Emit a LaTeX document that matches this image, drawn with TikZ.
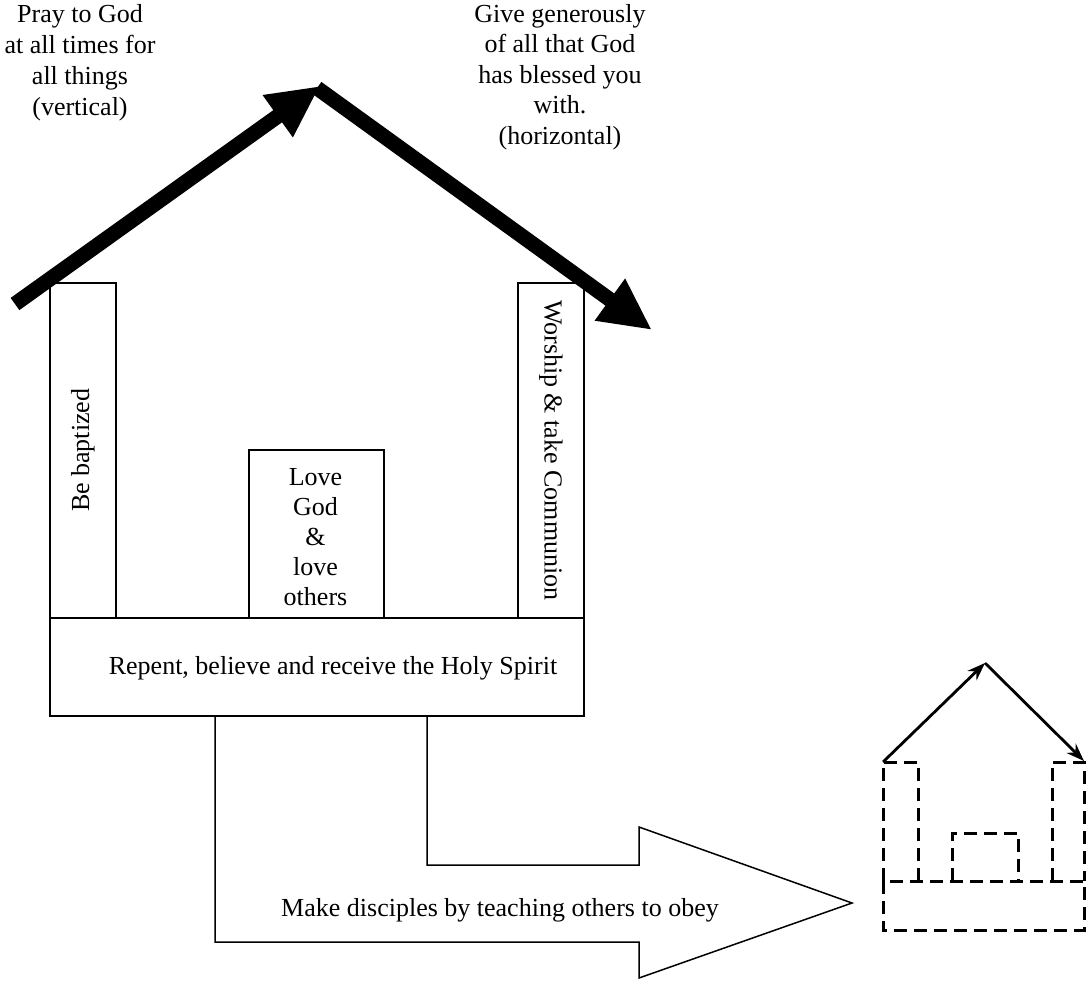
\documentclass[tikz,border=0pt]{standalone}
\usepackage{fontspec}
\setmainfont{Liberation Serif}
\usetikzlibrary{arrows.meta}
\begin{document}
\begin{tikzpicture}[x=1pt,y=-1pt,
  box/.style={draw,line width=1.5pt,inner sep=0pt,anchor=north west},
  lbl/.style={font=\fontsize{26}{31}\selectfont,align=center,inner sep=0pt},
  bigarrow/.style={line width=15pt,-{Triangle[length=52pt,width=48pt]}},
  outline/.style={draw,line width=1.5pt},
  smallarrow/.style={line width=2.8pt,-{Stealth[length=18pt,width=13pt]}},
  dbox/.style={draw,line width=3pt,dash pattern=on 13pt off 7pt}]
\useasboundingbox (0,0) rectangle (1089,980);

% pillars and base of main house
\node[box,minimum width=66pt,minimum height=335pt] (bapt) at (49,282) {};
\node[box,minimum width=66pt,minimum height=335pt] (wors) at (517,282) {};
\node[box,minimum width=135pt,minimum height=168pt] (love) at (248,449) {};
\node[box,minimum width=534pt,minimum height=98pt] (base) at (49,617) {};

\node[lbl,rotate=90] (baptt) at (bapt.center) {Be baptized};
\node[lbl,rotate=-90] (worst) at (wors.center) {Worship \& take Communion};
\node[lbl,font=\fontsize{26}{30}\selectfont] (lovet) at (315.5,537) {Love\\God\\\&\\love\\others};
\node[lbl] (baset) at (333,668) {Repent, believe and receive the Holy Spirit};

% roof arrows
\coordinate (ls) at (15,304);
\coordinate (apexA) at (320,86);
\coordinate (apexB) at (317,88);
\coordinate (re) at (652,330);
\draw[bigarrow] (ls) -- (apexA);
\draw[bigarrow] (apexB) -- (re);

\node[lbl] (pray) at (80,63) {Pray to God\\at all times for\\all things\\(vertical)};
\node[lbl,font=\fontsize{26}{30.5}\selectfont] (give) at (560,77) {Give generously\\of all that God\\has blessed you\\with.\\(horizontal)};

% big outgoing arrow
\coordinate (a1) at (215,715);
\coordinate (a2) at (215,942);
\coordinate (a3) at (639,942);
\coordinate (a4) at (639,978);
\coordinate (a5) at (852,903);
\coordinate (a6) at (639,827);
\coordinate (a7) at (639,865);
\coordinate (a8) at (427,865);
\coordinate (a9) at (427,715);
\draw[outline,line join=miter] (a1) -- (a2) -- (a3) -- (a4) -- (a5) -- (a6) -- (a7) -- (a8) -- (a9);
\node[lbl] (make) at (500,910) {Make disciples by teaching others to obey};

% small house
\coordinate (sl) at (883,762);
\coordinate (sa) at (985,663);
\coordinate (sr) at (1084,761);
\draw[smallarrow] (sl) -- (sa);
\draw[smallarrow] (sa) -- (sr);
\draw[dbox] (883,881) rectangle (1084,930);
\draw[dbox] (883,881) -- (883,762) -- (918,762) -- (918,881);
\draw[dbox] (1052,881) -- (1052,762) -- (1084,762) -- (1084,881);
\draw[dbox] (952,881) -- (952,833) -- (1018,833) -- (1018,881);
\end{tikzpicture}
\end{document}
